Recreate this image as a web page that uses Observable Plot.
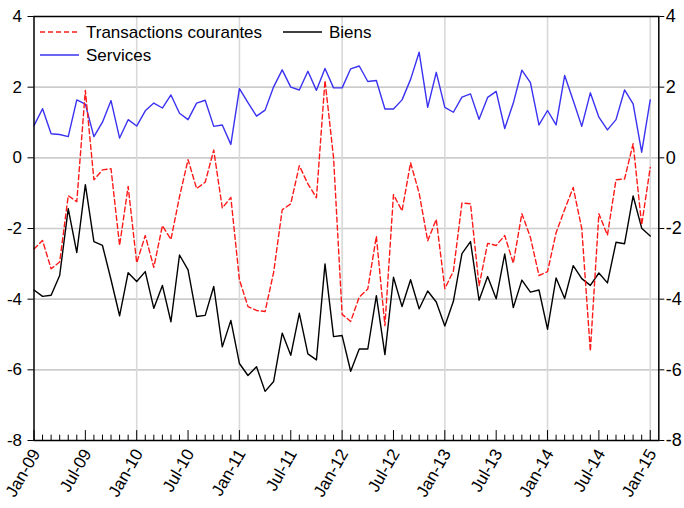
<!DOCTYPE html>
<html><head><meta charset="utf-8">
<script src="https://cdn.jsdelivr.net/npm/d3@7"></script>
<script src="https://cdn.jsdelivr.net/npm/@observablehq/plot@0.6"></script>
<style>
body{margin:0;background:#fff;font-family:"Liberation Sans",Arial,sans-serif;}
#wrap{position:relative;width:684px;height:508px;overflow:hidden;}
#legend{position:absolute;left:0;top:0;}
</style></head><body>
<div id="wrap"><div id="chart"></div><svg id="legend" width="400" height="80"></svg></div>
<script>
// Monthly, Jan-09 .. Jan-15 (73 months), index 0..72
const tickIdx = [0,6,12,18,24,30,36,42,48,54,60,66,72];
const tickLabels = ["Jan-09","Jul-09","Jan-10","Jul-10","Jan-11","Jul-11","Jan-12","Jul-12","Jan-13","Jul-13","Jan-14","Jul-14","Jan-15"];
const yTicks = [-8,-6,-4,-2,0,2,4];
const seriesNames = ["Transactions courantes","Biens","Services"];

const transactions = [-2.58,-2.34,-3.14,-2.95,-1.07,-1.24,1.91,-0.62,-0.34,-0.31,-2.48,-0.81,
 -2.97,-2.20,-3.10,-1.92,-2.31,-1.10,-0.05,-0.87,-0.69,0.22,-1.42,-1.12,
 -3.45,-4.21,-4.32,-4.35,-3.24,-1.47,-1.30,-0.22,-0.74,-1.13,2.19,0.00,
 -4.43,-4.63,-3.94,-3.71,-2.22,-4.75,-1.04,-1.50,-0.14,-1.00,-2.35,-1.74,
 -3.70,-3.21,-1.28,-1.30,-3.62,-2.42,-2.48,-2.20,-2.98,-1.58,-2.25,-3.33,
 -3.22,-2.12,-1.46,-0.84,-2.00,-5.47,-1.58,-2.19,-0.62,-0.60,0.40,-1.90,-0.27];
const biens = [-3.74,-3.92,-3.89,-3.33,-1.44,-2.68,-0.76,-2.37,-2.48,-3.45,-4.47,-3.25,
 -3.50,-3.22,-4.26,-3.61,-4.64,-2.75,-3.17,-4.49,-4.46,-3.64,-5.35,-4.60,
 -5.82,-6.16,-5.91,-6.61,-6.33,-4.96,-5.59,-4.40,-5.55,-5.72,-3.00,-5.06,
 -5.03,-6.04,-5.41,-5.41,-3.90,-5.57,-3.38,-4.21,-3.45,-4.27,-3.77,-4.08,
 -4.76,-4.06,-2.71,-2.37,-4.03,-3.36,-3.99,-2.72,-4.24,-3.46,-3.80,-3.74,
 -4.85,-3.40,-3.98,-3.05,-3.42,-3.61,-3.26,-3.54,-2.39,-2.43,-1.08,-1.99,-2.21];
const services = [0.91,1.39,0.68,0.66,0.60,1.64,1.52,0.60,1.01,1.62,0.56,1.08,
 0.90,1.33,1.55,1.41,1.78,1.26,1.08,1.55,1.63,0.89,0.93,0.38,
 1.96,1.56,1.18,1.35,2.01,2.49,2.00,1.92,2.45,1.91,2.53,1.98,
 1.98,2.52,2.60,2.16,2.19,1.38,1.38,1.64,2.22,2.99,1.43,2.42,
 1.43,1.29,1.72,1.81,1.09,1.71,1.88,0.83,1.55,2.48,2.13,0.93,
 1.34,0.93,2.33,1.62,0.89,1.84,1.15,0.79,1.08,1.92,1.53,0.16,1.64];

const colors = {"Transactions courantes":"#ff1a1a","Biens":"#000000","Services":"#3a32f0"};
const months = d3.range(transactions.length);
const rowsOf = (arr, name) => arr.map((v,i)=>({i, v, series:name}));
const rowsT = rowsOf(transactions, seriesNames[0]);
const rowsB = rowsOf(biens, seriesNames[1]);
const rowsS = rowsOf(services, seriesNames[2]);
const janIdx = tickIdx.filter((d,k)=>k%2===0 && d>0);
const minorIdx = months.filter(d=>d%6!==0);

const chart = Plot.plot({
  width:684, height:508,
  marginLeft:33.5, marginRight:25.7, marginTop:16, marginBottom:68,
  x:{domain:[0,73], axis:null},
  y:{domain:[-8,4], axis:null},
  style:{fontFamily:'"Liberation Sans", Arial, sans-serif', fontSize:"17px", background:"transparent", color:"#000"},
  marks:[
    Plot.gridY(yTicks.filter(d=>d>-8 && d<4), {stroke:"#cccccc", strokeOpacity:1, strokeWidth:1.6}),
    Plot.gridX(janIdx, {stroke:"#d9d9d9", strokeOpacity:1, strokeWidth:1.6}),
    Plot.ruleX(minorIdx, {x:d=>d, y1:-8, y2:-7.85, stroke:"#000", strokeWidth:1}),
    Plot.ruleX(tickIdx, {x:d=>d, y1:-8, y2:-7.72, stroke:"#000", strokeWidth:1}),
    Plot.line(rowsS, {x:"i", y:"v", stroke:colors["Services"], strokeWidth:1.4}),
    Plot.line(rowsB, {x:"i", y:"v", stroke:colors["Biens"], strokeWidth:1.4}),
    Plot.line(rowsT, {x:"i", y:"v", stroke:colors["Transactions courantes"], strokeWidth:1.4, strokeDasharray:"5,3"}),
    Plot.frame({stroke:"#000", strokeWidth:1.5}),
    Plot.axisY({anchor:"left", ticks:yTicks, tickSize:6, tickPadding:6, tickFormat:d=>String(d), fontSize:17, label:null}),
    Plot.axisY({anchor:"right", ticks:yTicks, tickSize:5, tickPadding:2, tickFormat:d=>String(d), fontSize:18, label:null}),
    Plot.text(tickIdx, {x:d=>d, frameAnchor:"bottom", text:(d,k)=>tickLabels[k], rotate:-60, textAnchor:"end", lineAnchor:"middle", dx:2, dy:10, fontSize:17})
  ]
});
document.getElementById("chart").appendChild(chart);

// legend (inside plot, top-left)
const leg = d3.select("#legend");
const items = [
  {name:seriesNames[0], x:40, y:32, dash:"5,3"},
  {name:seriesNames[1], x:283, y:32, dash:null},
  {name:seriesNames[2], x:40, y:55, dash:null}
];
items.forEach(it=>{
  leg.append("line").attr("x1",it.x).attr("x2",it.x+39).attr("y1",it.y).attr("y2",it.y)
    .attr("stroke",colors[it.name]).attr("stroke-width",1.4).attr("stroke-dasharray",it.dash);
  leg.append("text").attr("x",it.x+46).attr("y",it.y+6).attr("font-size","17px")
    .attr("font-family",'"Liberation Sans", Arial, sans-serif').attr("fill","#000").text(it.name);
});
</script></body></html>
